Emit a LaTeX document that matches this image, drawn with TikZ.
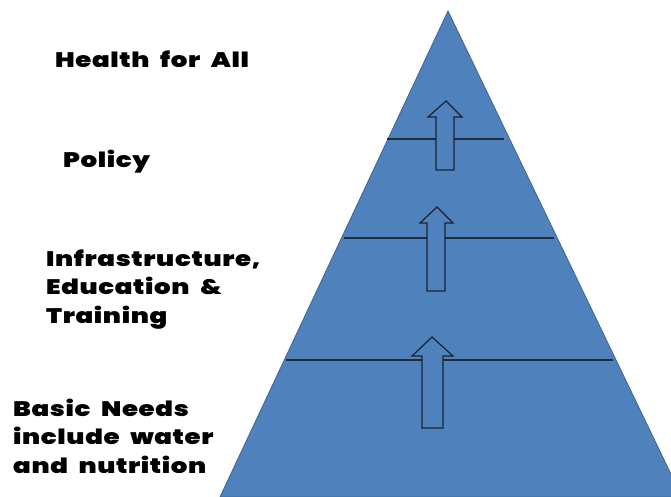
\documentclass[tikz,border=0pt]{standalone}
\usepackage{fontspec}
\newfontfamily\labfont{Poppins Black}[FakeStretch=1.24, LetterSpace=3, WordSpace=2.1]
\definecolor{pyrblue}{HTML}{4F81BD}
\definecolor{pyredge}{HTML}{3B6596}
\definecolor{tierline}{HTML}{1E2C3E}
\definecolor{arrowedge}{HTML}{1A2230}
\tikzset{
  pyramid/.style={fill=pyrblue, draw=pyredge, line width=0.8pt},
  tier/.style={draw=tierline, line width=1.6pt},
  uparrow/.style={fill=pyrblue, draw=arrowedge, line width=1.2pt, line join=miter},
  label/.style={anchor=base west, inner sep=0pt, align=left,
    font=\labfont\fontsize{21}{28.5}\selectfont, text=black}
}
\begin{document}
\begin{tikzpicture}[x=1pt,y=-1pt]
\useasboundingbox (0,0) rectangle (671,496);
% pyramid
\coordinate (apex) at (448,11);
\coordinate (bl) at (220,497);
\coordinate (br) at (682,497);
\path[pyramid] (apex) -- (br) -- (bl) -- cycle;
% tier lines
\coordinate (t1l) at (387,139); \coordinate (t1r) at (504,139);
\coordinate (t2l) at (344,238); \coordinate (t2r) at (554,238);
\coordinate (t3l) at (286,360); \coordinate (t3r) at (613,360);
\draw[tier] (t1l) -- (t1r);
\draw[tier] (t2l) -- (t2r);
\draw[tier] (t3l) -- (t3r);
% block arrows
\draw[uparrow] (446,101) -- (462,117) -- (454,117) -- (454,170) -- (436,170) -- (436,117) -- (428,117) -- cycle;
\draw[uparrow] (437,207) -- (453,223) -- (445,223) -- (445,291) -- (427,291) -- (427,223) -- (420,223) -- cycle;
\draw[uparrow] (432,337) -- (453,356) -- (443,356) -- (443,428) -- (422,428) -- (422,356) -- (412,356) -- cycle;
% labels
\node[label] (health) at (55,67) {Health for All};
\node[label] (policy) at (63,167) {Policy};
\node[label] (infra) at (46,323) {Infrastructure,\\Education \&\\Training};
\node[label] (basic) at (13,473) {Basic Needs\\include water\\and nutrition};
\end{tikzpicture}
\end{document}
